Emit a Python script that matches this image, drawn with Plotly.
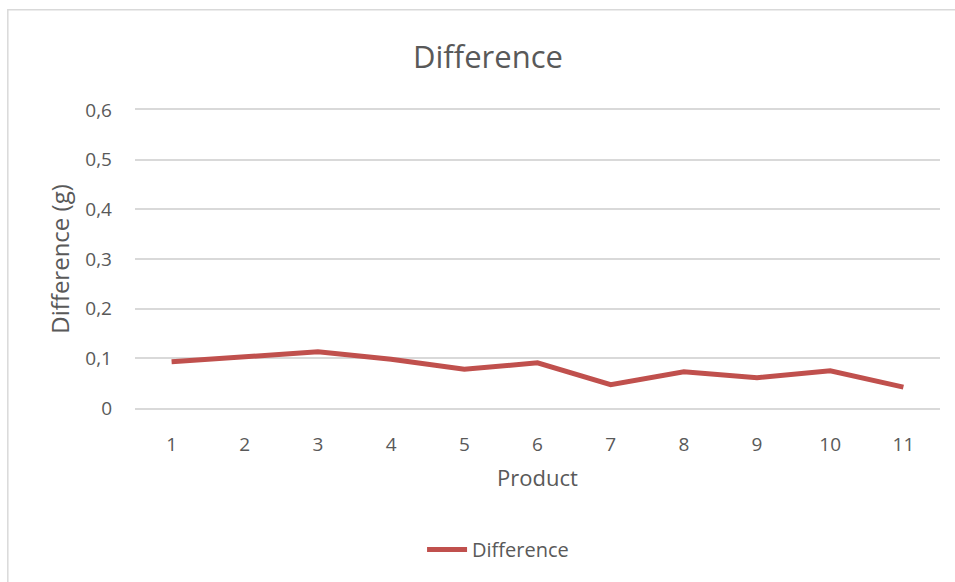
import plotly.graph_objects as go

products = ["1", "2", "3", "4", "5", "6", "7", "8", "9", "10", "11"]
difference = [0.093, 0.103, 0.113, 0.098, 0.078, 0.091, 0.047, 0.073, 0.061, 0.075, 0.042]
y_tick_vals = [0, 0.1, 0.2, 0.3, 0.4, 0.5, 0.6]
y_tick_text = ["0", "0,1", "0,2", "0,3", "0,4", "0,5", "0,6"]

FONT = "'Open Sans', Lato, sans-serif"
GRAY = "#595959"

fig = go.Figure()
fig.add_trace(go.Scatter(
    x=products, y=difference, mode="lines", name="Difference",
    line=dict(color="#c0504d", width=5),
))

fig.update_layout(
    width=955, height=582,
    margin=dict(l=135, r=15, t=110, b=174),
    paper_bgcolor="white", plot_bgcolor="white",
    font=dict(family=FONT, color=GRAY, size=19),
    title=dict(text="Difference", x=0.511, xanchor="center", y=0.902, yanchor="middle",
               font=dict(size=31, color=GRAY, family=FONT)),
    showlegend=True,
    legend=dict(orientation="h", x=0.451, xanchor="center", y=-0.475, yanchor="middle",
                font=dict(size=20, color=GRAY, family=FONT), itemwidth=40),
    xaxis=dict(
        type="category", range=[-0.5, 10.5], showgrid=False, zeroline=False,
        showline=True, mirror=True, linecolor="#d9d9d9", linewidth=1.5, ticks="",
        ticklabelstandoff=18, tickfont=dict(size=19, color=GRAY),
        title=dict(text="Product", font=dict(size=22, color=GRAY), standoff=15),
    ),
    yaxis=dict(
        range=[0, 0.6], tickvals=y_tick_vals, ticktext=y_tick_text,
        showgrid=True, gridcolor="#d9d9d9", gridwidth=1.5, zeroline=False,
        showline=False, ticks="", ticklabelstandoff=22, tickfont=dict(size=19, color=GRAY),
        title=dict(text="Difference (g)", font=dict(size=24, color=GRAY), standoff=8),
    ),
    shapes=[dict(type="rect", xref="paper", yref="paper", x0=-0.158, x1=1.1, y0=-0.7, y1=1.336,
                 line=dict(color="#d9d9d9", width=1.5), layer="below")],
)
fig.write_html("out.html")
